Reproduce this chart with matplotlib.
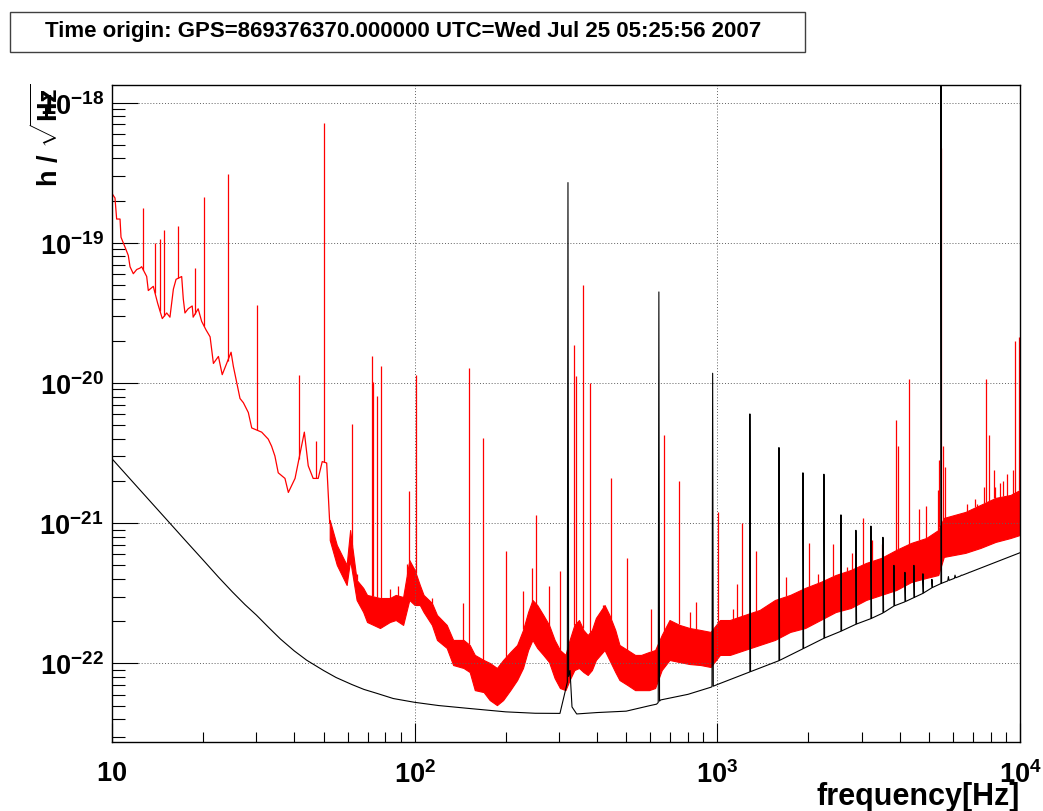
import numpy as np
import matplotlib
matplotlib.use("Agg")
import matplotlib.pyplot as plt
from matplotlib.patches import Rectangle
from matplotlib.transforms import ScaledTranslation
from matplotlib.ticker import FixedLocator, FuncFormatter, LogLocator, NullFormatter

plt.rcParams["font.family"] = ["Liberation Sans", "DejaVu Sans"]
plt.rcParams["font.weight"] = "bold"
plt.rcParams["mathtext.fontset"] = "custom"
plt.rcParams["mathtext.rm"] = "Liberation Sans:bold"
plt.rcParams["mathtext.it"] = "Liberation Sans:bold"
plt.rcParams["mathtext.bf"] = "Liberation Sans:bold"
plt.rcParams["mathtext.default"] = "bf"

title = "Time origin: GPS=869376370.000000 UTC=Wed Jul 25 05:25:56 2007"
xlabel = "frequency[Hz]"
ylabel = r"h / $\sqrt{Hz}$"
x_ticks = [10, 100, 1000, 10000]
y_ticks = [1e-22, 1e-21, 1e-20, 1e-19, 1e-18]

# values are log10(h / sqrt(Hz))
# black: model sensitivity curve, smooth part
model_f = [10, 12.5, 15, 17.5, 20, 22.5, 25, 27.5, 30, 33, 36, 40, 44, 50, 55,
           62, 68, 75, 85, 100, 120, 150, 200, 250, 302, 315, 326, 331, 343,
           400, 500, 600, 630, 650, 800, 950, 1000, 1281, 1598, 1918, 2250,
           2561, 2870, 3217, 3525, 3832, 4167, 4461, 4778, 5116, 5479, 10000]
model_exp = [-20.54, -20.773, -20.963, -21.124, -21.262, -21.385, -21.49,
             -21.58, -21.655, -21.745, -21.825, -21.91, -21.977, -22.05, -22.10,
             -22.15, -22.185, -22.213, -22.25, -22.277, -22.30, -22.32, -22.345,
             -22.355, -22.356, -22.19, -22.05, -22.31, -22.36, -22.35, -22.34,
             -22.30, -22.29, -22.26, -22.22, -22.17, -22.15, -22.06, -21.98,
             -21.895, -21.82, -21.77, -21.72, -21.68, -21.64, -21.59, -21.56,
             -21.53, -21.50, -21.46, -21.43, -21.21]
# black: resonance lines (harmonics of ~320 Hz)
model_peak_f = [321, 641, 965, 1281, 1598, 1918, 2250, 2561, 2870, 3217, 3525,
                3832, 4167, 4461, 4778, 5116, 5479, 5800, 6100, 6400, 6800, 7200]
model_peak_exp = [-18.57, -19.35, -19.93, -20.22, -20.46, -20.64, -20.65,
                  -20.94, -21.05, -21.02, -21.10, -21.30, -21.35, -21.30,
                  -21.36, -21.40, -17.5, -21.38, -21.37, -21.37, -21.35, -21.33]

# red: measured spectrum, low frequency trace
red_f = [10.0, 10.23, 10.36, 10.63, 10.71, 11.04, 11.32, 11.47, 11.76, 12.07,
         12.37, 12.53, 13.02, 13.18, 13.69, 14.15, 14.66, 15.16, 15.54, 15.95,
         16.28, 16.99, 17.2, 17.42, 17.85, 18.41, 18.54, 19.26, 19.78, 20.44,
         21.09, 21.63, 22.47, 23.13, 24.74, 25.17, 25.82, 26.48, 27.17, 28.21,
         28.95, 31.23, 32.83, 33.67, 34.53, 35.42, 37.28, 38.25, 40.25, 43.2,
         44.5, 46.2, 48.0, 49.5, 51.2, 52.4]
red_exp = [-18.648, -18.68, -18.83, -18.83, -18.96, -19.03, -19.09, -19.17,
           -19.22, -19.19, -19.18, -19.17, -19.24, -19.34, -19.31, -19.43,
           -19.54, -19.50, -19.53, -19.33, -19.26, -19.24, -19.40, -19.50,
           -19.47, -19.45, -19.53, -19.47, -19.56, -19.62, -19.67, -19.86,
           -19.81, -19.94, -19.78, -19.88, -19.995, -20.11, -20.14, -20.21,
           -20.32, -20.35, -20.40, -20.45, -20.52, -20.64, -20.68, -20.78,
           -20.68, -20.35, -20.59, -20.68, -20.68, -20.56, -20.57, -21.0]

# red: measured spectrum, noise band above ~50 Hz (upper / lower edge)
band_f = [52.4, 55.3, 59.6, 61.2, 64.3, 67.6, 69.6, 76.8, 82.8, 86.6, 91.6, 96,
          100, 104, 107, 114, 118.5, 127.6, 134, 145, 152, 158, 169, 177, 187,
          196, 207, 218, 228, 237, 245, 254, 266, 278, 290, 302, 315, 325, 337,
          349, 361, 373, 385, 397, 424, 440, 460, 475, 505, 535, 560, 595, 623,
          655, 695, 750, 810, 880, 950, 1020, 1100, 1230, 1380, 1550, 1740,
          1950, 2190, 2460, 2760, 3100, 3480, 3900, 4370, 4900, 5370, 5600,
          6600, 7400, 8300, 9300, 10000]
band_hi = [-20.976, -21.155, -21.297, -21.048, -21.404, -21.461, -21.511,
           -21.533, -21.533, -21.511, -21.526, -21.262, -21.333, -21.440,
           -21.511, -21.568, -21.654, -21.725, -21.832, -21.832, -21.868,
           -21.939, -21.975, -21.996, -22.032, -21.975, -21.918, -21.868,
           -21.761, -21.633, -21.547, -21.583, -21.654, -21.725, -21.832,
           -21.904, -21.939, -21.832, -21.725, -21.690, -21.761, -21.797,
           -21.761, -21.675, -21.583, -21.654, -21.761, -21.868, -21.904,
           -21.939, -21.939, -21.918, -21.904, -21.797, -21.690, -21.725,
           -21.747, -21.761, -21.775, -21.690, -21.690, -21.654, -21.618,
           -21.547, -21.511, -21.461, -21.419, -21.369, -21.333, -21.283,
           -21.247, -21.190, -21.140, -21.105, -21.048, -20.962, -20.919,
           -20.869, -20.819, -20.798, -20.762]
band_lo = [-21.119, -21.297, -21.440, -21.262, -21.547, -21.633, -21.704,
           -21.747, -21.704, -21.690, -21.725, -21.547, -21.583, -21.583,
           -21.633, -21.725, -21.832, -21.889, -22.011, -22.032, -22.061,
           -22.190, -22.204, -22.261, -22.297, -22.261, -22.190, -22.118,
           -22.032, -21.904, -21.832, -21.889, -21.939, -21.990, -22.104,
           -22.175, -22.190, -22.118, -22.047, -22.032, -22.061, -22.082,
           -22.047, -21.975, -21.904, -21.975, -22.061, -22.118, -22.154,
           -22.190, -22.190, -22.190, -22.175, -22.047, -21.975, -21.990,
           -22.004, -22.011, -22.025, -21.939, -21.939, -21.904, -21.868,
           -21.832, -21.775, -21.747, -21.690, -21.633, -21.604, -21.547,
           -21.511, -21.476, -21.419, -21.390, -21.369, -21.240, -21.211,
           -21.176, -21.133, -21.105, -21.083]

# red: narrow lines sticking out of the spectrum
line_f = [12.69, 13.87, 14.40, 14.89, 16.56, 18.78, 20.13, 24.09, 30.16, 41.47,
          47.1, 50.2, 62.2, 64.3, 72.4, 73.0, 75.2, 77.4, 82.8, 88.4, 94.2,
          95.9, 100.7, 114, 144.7, 151, 168.6, 200, 228.5, 243.6, 251.6, 278,
          302, 337, 342, 359, 381, 420, 445, 504, 605, 666, 745, 811, 850,
          1007, 1128, 1158, 1202, 1341, 1685, 2004, 2155, 2415, 2680, 2780,
          3020, 3234, 3500, 3890, 3960, 4305, 4650, 4900, 5360, 5420, 5480,
          5560, 5650, 6700, 7120, 7200, 7600, 7740, 7900, 8230, 8270, 8600,
          8820, 9030, 9460, 9620, 9930]
line_exp = [-18.75, -19.0, -18.975, -18.91, -18.88, -19.18, -18.67, -18.51,
            -19.44, -19.94, -20.41, -18.145, -20.29, -21.36, -19.81, -19.99,
            -20.09, -19.88, -21.47, -21.45, -21.29, -20.77, -19.94, -21.53,
            -21.57, -19.89, -20.39, -21.2, -21.48, -21.32, -20.94, -21.45,
            -21.34, -19.73, -19.95, -19.30, -20.0, -21.58, -20.68, -21.25,
            -21.61, -20.37, -20.70, -21.63, -21.56, -20.92, -21.61, -21.43,
            -21.0, -21.2, -21.38, -21.14, -21.36, -21.15, -21.31, -21.21,
            -20.96, -21.12, -21.15, -20.26, -20.45, -19.97, -20.90, -20.88,
            -20.76, -20.55, -18.32, -20.45, -20.6, -20.86, -20.83, -20.86,
            -20.74, -19.97, -20.37, -20.62, -20.74, -20.71, -20.70, -20.65,
            -20.62, -19.70, -19.67]

W, H = 1043, 811
fig = plt.figure(figsize=(W / 100, H / 100), dpi=100)
ax = fig.add_axes([112 / W, 1 - 742 / H, 908 / W, 657 / H])


def exp10(a):
    return 10.0 ** np.asarray(a, dtype=float)


def interp_log(f, nodes_f, nodes_e):
    return np.interp(np.log10(f), np.log10(nodes_f), nodes_e)


# red spectrum
ax.fill_between(band_f, exp10(band_lo), exp10(band_hi), facecolor="red",
                edgecolor="red", linewidth=0.8)
ax.plot(red_f, exp10(red_exp), color="red", lw=0.9)
top_f = red_f[:-1] + band_f
top_e = red_exp[:-1] + band_hi
feet = interp_log(line_f, top_f, top_e)
ax.vlines(line_f, exp10(feet), exp10(line_exp), color="red", lw=0.9)

# black model curve with its resonances
bf = list(model_f)
be = list(model_exp)
for f, e in zip(model_peak_f, model_peak_exp):
    fl, fr = f * 0.995, f * 1.005
    el, er = interp_log([fl, fr], model_f, model_exp)
    bf += [fl, f, fr]
    be += [el, e, er]
order = np.argsort(bf, kind="stable")
ax.plot(np.array(bf)[order], exp10(np.array(be)[order]), color="black", lw=0.8)

ax.set_xscale("log")
ax.set_yscale("log")
ax.set_xlim(10, 1e4)
ax.set_ylim(10 ** -22.56, 10 ** -17.874)


def fmt(v, pos):
    p = int(round(np.log10(v)))
    if p == 1:
        return r"$10$"
    return r"$10^{%d}$" % p


ax.xaxis.set_major_locator(FixedLocator(x_ticks))
ax.yaxis.set_major_locator(FixedLocator(y_ticks))
ax.xaxis.set_minor_locator(LogLocator(base=10, subs=np.arange(2, 10), numticks=20))
ax.yaxis.set_minor_locator(LogLocator(base=10, subs=np.arange(2, 10), numticks=20))
ax.xaxis.set_major_formatter(FuncFormatter(fmt))
ax.yaxis.set_major_formatter(FuncFormatter(fmt))
ax.xaxis.set_minor_formatter(NullFormatter())
ax.yaxis.set_minor_formatter(NullFormatter())

ax.tick_params(axis="both", which="both", direction="in", top=False,
               right=False, width=0.8, labelsize=19.5)
ax.tick_params(axis="y", which="major", length=19, pad=6)
ax.tick_params(axis="y", which="minor", length=9)
ax.tick_params(axis="x", which="major", length=14, pad=14)
ax.tick_params(axis="x", which="minor", length=7)

ax.grid(True, which="major", linestyle=(0, (1, 2)), color="#606060", lw=0.7)
for s in ax.spines.values():
    s.set_linewidth(1.0)

# ROOT puts the y labels a little below the tick
shift = ScaledTranslation(0, -4 / 100, fig.dpi_scale_trans)
for lab in ax.yaxis.get_majorticklabels():
    lab.set_verticalalignment("center")
    lab.set_transform(lab.get_transform() + shift)

fig.text(1020 / W, 1 - 797 / H, xlabel, ha="right", va="center",
         fontsize=22, fontweight="bold")
fig.text(47 / W, 1 - 83 / H, ylabel, ha="center", va="top", rotation=90,
         fontsize=19.5, fontweight="bold")

fig.patches.append(Rectangle((10 / W, 1 - 52 / H), 795 / W, 40 / H,
                             transform=fig.transFigure, fill=False,
                             edgecolor="#404040", lw=1.0))
fig.text(403 / W, 1 - 31 / H, title, ha="center", va="center",
         fontsize=16, fontweight="bold")

fig.savefig("out.png", dpi=100)
